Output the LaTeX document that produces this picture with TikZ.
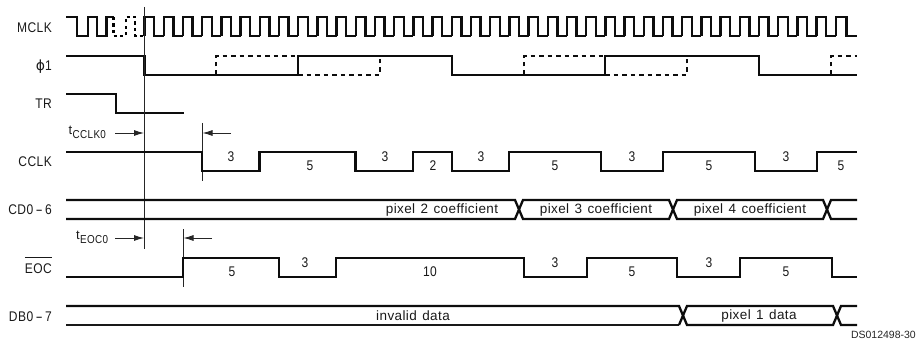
\documentclass[tikz,border=0pt]{standalone}
\usepackage{fontspec}
\setmainfont{Liberation Sans}
\newfontfamily\labfont[FakeStretch=0.86,LetterSpace=3]{Liberation Sans}
\newfontfamily\capfont[LetterSpace=3,WordSpace=1.3]{Liberation Sans}
\newfontfamily\phifont{DejaVu Sans}
\usetikzlibrary{arrows.meta}
\newcommand{\longhy}{\,\scalebox{1.8}[1]{-}\,}
\tikzset{
  wave/.style={line width=2.3pt,line join=miter,line cap=butt,black!95},
  wavethin/.style={line width=1.7pt,black!90},
  dashwave/.style={line width=1.8pt,dash pattern=on 4.5pt off 4pt,black!95},
  dotwave/.style={line width=2.6pt,dash pattern=on 3.2pt off 3.2pt,black},
  tickline/.style={line width=0.9pt,black!85},
  dimline/.style={line width=0.9pt,black!85,-{Latex[length=10pt,width=6pt]}},
  sig/.style={anchor=east,inner sep=0pt,font=\fontsize{14pt}{15pt}\labfont,text=black!90},
  num/.style={inner sep=0pt,font=\fontsize{14pt}{15pt}\labfont,text=black!90},
  txt/.style={inner sep=0pt,font=\fontsize{13.5pt}{15pt}\capfont,text=black!90}
}
\begin{document}
\begin{tikzpicture}[x=1pt,y=-1pt]
\useasboundingbox (0,0) rectangle (920,342);
% signal names
\node[sig] (mclk) at (52,28) {MCLK};
\node[sig] (phi) at (52,67) {{\phifont ϕ}1};
\node[sig] (tr) at (52,104) {TR};
\node[sig] (cclk) at (52,162) {CCLK};
\node[sig] (cd) at (52,210) {CD0\longhy 6};
\node[sig,anchor=base east] (eoc) at (52,273) {$\overline{\vrule height 14pt width 0pt\hbox{EOC}}$};
\node[sig] (db) at (52,317) {DB0\longhy 7};
% MCLK
\draw[wave] (66,17)--(77,17)--(77,36)--(88,36)--(88,17)--(97,17)--(97,36)--(106.5,36)--(106.5,17)--(113.5,17);
\draw[dotwave] (113.5,17)--(113.5,36)--(125.8,36)--(125.8,17)--(135,17)--(135,36)--(144.6,36);
\foreach \n in {0,...,35}{
  \pgfmathsetmacro{\ra}{144.6+19.2*\n}
  \pgfmathsetmacro{\fa}{\ra+9.6}
  \pgfmathsetmacro{\ea}{\ra+19.2}
  \draw[wave] (\ra,36)--(\ra,17)--(\fa,17)--(\fa,36)--(\ea,36);
}
\draw[wave] (835.8,36)--(835.8,17)--(846.5,17)--(846.5,36)--(857,36);
% phi1
\draw[wave] (66,56)--(144.5,56)--(144.5,75)--(298,75)--(298,56)--(452,56)--(452,75)--(605,75)--(605,56)--(759,56)--(759,75)--(857,75);
\draw[dashwave] (216,75)--(216,56)--(298,56);
\draw[dashwave] (298,75)--(380,75)--(380,56);
\draw[dashwave] (524,75)--(524,56)--(605,56);
\draw[dashwave] (605,75)--(687,75)--(687,56);
\draw[dashwave] (831,75)--(831,56)--(857,56);
% TR
\draw[wave] (66,94)--(116,94)--(116,113)--(184,113);
% timing lines
\draw[tickline] (144.5,7)--(144.5,249);
\draw[tickline] (202,123)--(202,181);
\draw[tickline] (183,229)--(183,287);
% dimension labels
\node[inner sep=0pt,font=\fontsize{13pt}{14pt}\selectfont,text=black!90,anchor=base west] (tc) at (68.5,134) {t};
\node[inner sep=0pt,font=\fontsize{11.5pt}{12pt}\labfont,text=black!90,anchor=base west] (tcs) at (72.5,138) {CCLK0};
\node[inner sep=0pt,font=\fontsize{13pt}{14pt}\selectfont,text=black!90,anchor=base west] (te) at (76,239) {t};
\node[inner sep=0pt,font=\fontsize{11.5pt}{12pt}\labfont,text=black!90,anchor=base west] (tes) at (80,243) {EOC0};
\coordinate (a1) at (115,133); \coordinate (a2) at (144,133);
\coordinate (a3) at (231,133); \coordinate (a4) at (202.5,133);
\coordinate (a5) at (115,238); \coordinate (a6) at (144,238);
\coordinate (a7) at (212,238); \coordinate (a8) at (183.5,238);
\draw[dimline] (a1)--(a2); \draw[dimline] (a3)--(a4);
\draw[dimline] (a5)--(a6); \draw[dimline] (a7)--(a8);
% CCLK
\draw[wave] (66,152)--(202,152)--(202,171)--(259.5,171)--(259.5,152)--(355.5,152)--(355.5,171)--(413,171)--(413,152)--(452,152)--(452,171)--(509,171)--(509,152)--(601,152)--(601,171)--(663,171)--(663,152)--(755,152)--(755,171)--(817,171)--(817,152)--(857,152);
\foreach \x/\y/\lbl/\nm in {231/157/3/c1,310/166/5/c2,385/157/3/c3,433/166/2/c4,481/157/3/c5,555/166/5/c6,632/157/3/c7,709/166/5/c8,786/157/3/c9,841/166/5/c10}
  \node[num] (\nm) at (\x,\y) {\lbl};
% CD0-6
\draw[wave] (66,200)--(515,200)--(523,219)--(669,219)--(677,200)--(823,200)--(831,219)--(857,219);
\draw[wave] (66,219)--(515,219)--(523,200)--(669,200)--(677,219)--(823,219)--(831,200)--(857,200);
\node[txt] (p2) at (442,210) {pixel 2 coefficient};
\node[txt] (p3) at (596,210) {pixel 3 coefficient};
\node[txt] (p4) at (750,210) {pixel 4 coefficient};
% EOC
\draw[wave] (66,277)--(183,277)--(183,258)--(279,258)--(279,277)--(336,277)--(336,258)--(524,258)--(524,277)--(587,277)--(587,258)--(677,258)--(677,277)--(740,277)--(740,258)--(832,258)--(832,277)--(857,277);
\foreach \x/\y/\lbl/\nm in {232/272/5/e1,305/263/3/e2,430/272/10/e3,555/263/3/e4,632/272/5/e5,709/263/3/e6,786/272/5/e7}
  \node[num] (\nm) at (\x,\y) {\lbl};
% DB0-7
\draw[wave] (66,306)--(679,306)--(687,325)--(833,325)--(841,306)--(857,306);
\draw[wavethin] (66,325)--(679,325);
\draw[wave] (679,325)--(687,306)--(833,306)--(841,325)--(857,325);
\node[txt] (inv) at (413,316) {invalid data};
\node[txt] (p1) at (759,316) {pixel 1 data};
\node[inner sep=0pt,anchor=east,font=\fontsize{10.5pt}{12pt}\selectfont,text=black!85] (ds) at (916,335) {DS012498-30};
\end{tikzpicture}
\end{document}
